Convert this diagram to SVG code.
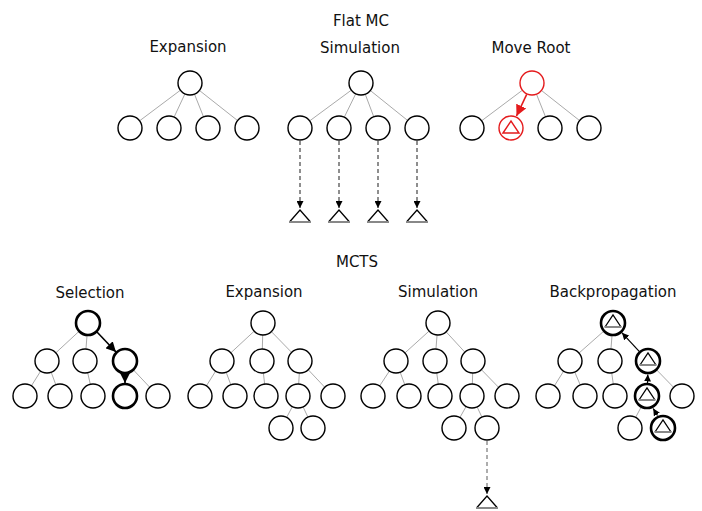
<svg xmlns="http://www.w3.org/2000/svg" width="702" height="511" viewBox="0 0 702 511">
<defs>
<style>
text{font-family:"DejaVu Sans","Liberation Sans",sans-serif;font-size:15px;fill:#111;text-anchor:middle}
.n{fill:#fff;stroke:#000;stroke-width:1.4}
.b{fill:#fff;stroke:#000;stroke-width:2.6}
.r{fill:#fff;stroke:#e41a1c;stroke-width:1.4}
.e{stroke:#aaa;stroke-width:1;fill:none}
.d1{stroke:#444;stroke-width:1.2;stroke-dasharray:4 3;fill:none}
.d2{stroke:#999;stroke-width:1.6;stroke-dasharray:4 3;fill:none}
.t{fill:none;stroke:#000;stroke-width:1.3;stroke-linejoin:miter}
.tb{stroke:#888;stroke-width:2}
.tr{fill:none;stroke:#e41a1c;stroke-width:1.4}
</style>
<marker id="ah" viewBox="0 0 10 10" refX="10" refY="5" markerWidth="7" markerHeight="7" markerUnits="userSpaceOnUse" orient="auto"><path d="M0,0L10,5L0,10z" fill="#000"/></marker>
<marker id="ahb" viewBox="0 0 10 10" refX="10" refY="5" markerWidth="10" markerHeight="10" markerUnits="userSpaceOnUse" orient="auto"><path d="M0,0L10,5L0,10z" fill="#000"/></marker>
<marker id="ahr" viewBox="0 0 10 10" refX="10" refY="5" markerWidth="11" markerHeight="11" markerUnits="userSpaceOnUse" orient="auto"><path d="M0,0L10,5L0,10z" fill="#e41a1c"/></marker>
<g id="tri"><polyline class="t" points="-8,4 0,-8 8,4"/><line class="tb" x1="-8.5" y1="4" x2="8.5" y2="4"/></g>
<g id="bigtri"><polyline class="t" points="-10.5,12 0,0 10.5,12"/><line class="tb" x1="-11" y1="12" x2="11" y2="12"/></g>
</defs>
<rect width="702" height="511" fill="#fff"/>

<g id="labels">
<text x="361" y="26">Flat MC</text>
<text x="188" y="52">Expansion</text>
<text x="360" y="53">Simulation</text>
<text x="531" y="53">Move Root</text>
<text x="357" y="267">MCTS</text>
<text x="90" y="298">Selection</text>
<text x="264" y="297">Expansion</text>
<text x="438" y="297">Simulation</text>
<text x="613" y="297">Backpropagation</text>
</g>

<g id="connectors">
<line class="e" x1="190" y1="83" x2="130" y2="128"/>
<line class="e" x1="190" y1="83" x2="169" y2="128"/>
<line class="e" x1="190" y1="83" x2="208" y2="128"/>
<line class="e" x1="190" y1="83" x2="247" y2="128"/>
<line class="e" x1="361" y1="83" x2="300" y2="128"/>
<line class="e" x1="361" y1="83" x2="339" y2="128"/>
<line class="e" x1="361" y1="83" x2="378" y2="128"/>
<line class="e" x1="361" y1="83" x2="417" y2="128"/>
<line class="d1" x1="300" y1="141" x2="300" y2="208" marker-end="url(#ah)"/>
<line class="d1" x1="339" y1="141" x2="339" y2="208" marker-end="url(#ah)"/>
<line class="d1" x1="378" y1="141" x2="378" y2="208" marker-end="url(#ah)"/>
<line class="d1" x1="417" y1="141" x2="417" y2="208" marker-end="url(#ah)"/>
<line class="e" x1="532" y1="83" x2="472" y2="128"/>
<line class="e" x1="532" y1="83" x2="550" y2="128"/>
<line class="e" x1="532" y1="83" x2="589" y2="128"/>
<line x1="526.7" y1="94.3" x2="516.5" y2="116" stroke="#e41a1c" stroke-width="1.6" marker-end="url(#ahr)"/>
<line class="e" x1="88" y1="323" x2="47" y2="361"/>
<line class="e" x1="88" y1="323" x2="85" y2="361"/>
<line class="e" x1="47" y1="361" x2="25" y2="396"/>
<line class="e" x1="47" y1="361" x2="60" y2="396"/>
<line class="e" x1="85" y1="361" x2="93" y2="396"/>
<line class="e" x1="125" y1="361" x2="158" y2="396"/>
<line x1="96.5" y1="331.5" x2="116" y2="352" stroke="#000" stroke-width="1.6" marker-end="url(#ahb)"/>
<line x1="125" y1="374" x2="125" y2="383" stroke="#000" stroke-width="1.6" marker-end="url(#ahb)"/>
<line class="e" x1="263" y1="323" x2="222" y2="361"/>
<line class="e" x1="263" y1="323" x2="262" y2="361"/>
<line class="e" x1="263" y1="323" x2="300" y2="361"/>
<line class="e" x1="222" y1="361" x2="200" y2="396"/>
<line class="e" x1="222" y1="361" x2="235" y2="396"/>
<line class="e" x1="262" y1="361" x2="266" y2="396"/>
<line class="e" x1="300" y1="361" x2="298" y2="396"/>
<line class="e" x1="300" y1="361" x2="333" y2="396"/>
<line class="e" x1="298" y1="396" x2="281" y2="428"/>
<line class="e" x1="298" y1="396" x2="313" y2="428"/>
<line class="e" x1="438" y1="323" x2="396" y2="361"/>
<line class="e" x1="438" y1="323" x2="435" y2="361"/>
<line class="e" x1="438" y1="323" x2="473" y2="361"/>
<line class="e" x1="396" y1="361" x2="373" y2="396"/>
<line class="e" x1="396" y1="361" x2="409" y2="396"/>
<line class="e" x1="435" y1="361" x2="440" y2="396"/>
<line class="e" x1="473" y1="361" x2="472" y2="396"/>
<line class="e" x1="473" y1="361" x2="507" y2="396"/>
<line class="e" x1="472" y1="396" x2="454" y2="428"/>
<line class="e" x1="472" y1="396" x2="487" y2="428"/>
<line class="d2" x1="487" y1="441" x2="487" y2="494" marker-end="url(#ah)"/>
<line class="e" x1="613" y1="323" x2="570" y2="361"/>
<line class="e" x1="613" y1="323" x2="610" y2="361"/>
<line class="e" x1="570" y1="361" x2="548" y2="396"/>
<line class="e" x1="570" y1="361" x2="585" y2="396"/>
<line class="e" x1="610" y1="361" x2="615" y2="396"/>
<line class="e" x1="648" y1="361" x2="682" y2="396"/>
<line class="e" x1="647" y1="396" x2="630" y2="428"/>
<line x1="639.2" y1="351.4" x2="622" y2="332.8" stroke="#000" stroke-width="1.2" marker-end="url(#ah)"/>
<line x1="647.5" y1="383" x2="647.8" y2="374.5" stroke="#000" stroke-width="1.2" marker-end="url(#ah)"/>
<line x1="657.5" y1="415.5" x2="653.2" y2="408.5" stroke="#000" stroke-width="1.2" marker-end="url(#ah)"/>
</g>

<g id="flat-expansion">
<circle class="n" cx="190" cy="83" r="12"/>
<circle class="n" cx="130" cy="128" r="12"/>
<circle class="n" cx="169" cy="128" r="12"/>
<circle class="n" cx="208" cy="128" r="12"/>
<circle class="n" cx="247" cy="128" r="12"/>
</g>
<g id="flat-simulation">
<circle class="n" cx="361" cy="83" r="12"/>
<circle class="n" cx="300" cy="128" r="12"/>
<circle class="n" cx="339" cy="128" r="12"/>
<circle class="n" cx="378" cy="128" r="12"/>
<circle class="n" cx="417" cy="128" r="12"/>
<use href="#bigtri" x="300" y="210"/>
<use href="#bigtri" x="339" y="210"/>
<use href="#bigtri" x="378" y="210"/>
<use href="#bigtri" x="417" y="210"/>
</g>
<g id="flat-moveroot">
<circle class="r" cx="532" cy="83" r="12"/>
<circle class="n" cx="472" cy="128" r="12"/>
<circle class="r" cx="511" cy="128" r="12"/>
<circle class="n" cx="550" cy="128" r="12"/>
<circle class="n" cx="589" cy="128" r="12"/>
<polygon class="tr" points="503,133 511,121 519,133"/>
</g>

<g id="mcts-selection">
<circle class="b" cx="88" cy="323" r="12"/>
<circle class="n" cx="47" cy="361" r="12"/>
<circle class="n" cx="85" cy="361" r="12"/>
<circle class="b" cx="125" cy="361" r="12"/>
<circle class="n" cx="25" cy="396" r="12"/>
<circle class="n" cx="60" cy="396" r="12"/>
<circle class="n" cx="93" cy="396" r="12"/>
<circle class="b" cx="125" cy="396" r="12"/>
<circle class="n" cx="158" cy="396" r="12"/>
</g>

<g id="mcts-expansion">
<circle class="n" cx="263" cy="323" r="12"/>
<circle class="n" cx="222" cy="361" r="12"/>
<circle class="n" cx="262" cy="361" r="12"/>
<circle class="n" cx="300" cy="361" r="12"/>
<circle class="n" cx="200" cy="396" r="12"/>
<circle class="n" cx="235" cy="396" r="12"/>
<circle class="n" cx="266" cy="396" r="12"/>
<circle class="n" cx="298" cy="396" r="12"/>
<circle class="n" cx="333" cy="396" r="12"/>
<circle class="n" cx="281" cy="428" r="12"/>
<circle class="n" cx="313" cy="428" r="12"/>
</g>

<g id="mcts-simulation">
<circle class="n" cx="438" cy="323" r="12"/>
<circle class="n" cx="396" cy="361" r="12"/>
<circle class="n" cx="435" cy="361" r="12"/>
<circle class="n" cx="473" cy="361" r="12"/>
<circle class="n" cx="373" cy="396" r="12"/>
<circle class="n" cx="409" cy="396" r="12"/>
<circle class="n" cx="440" cy="396" r="12"/>
<circle class="n" cx="472" cy="396" r="12"/>
<circle class="n" cx="507" cy="396" r="12"/>
<circle class="n" cx="454" cy="428" r="12"/>
<circle class="n" cx="487" cy="428" r="12"/>
<use href="#bigtri" x="487" y="496"/>
</g>

<g id="mcts-backprop">
<circle class="b" cx="613" cy="323" r="12"/>
<circle class="n" cx="570" cy="361" r="12"/>
<circle class="n" cx="610" cy="361" r="12"/>
<circle class="b" cx="648" cy="361" r="12"/>
<circle class="n" cx="548" cy="396" r="12"/>
<circle class="n" cx="585" cy="396" r="12"/>
<circle class="n" cx="615" cy="396" r="12"/>
<circle class="b" cx="647" cy="396" r="12"/>
<circle class="n" cx="682" cy="396" r="12"/>
<circle class="n" cx="630" cy="428" r="12"/>
<circle class="b" cx="663" cy="428" r="12"/>
<use href="#tri" x="613" y="323"/>
<use href="#tri" x="648" y="361"/>
<use href="#tri" x="647" y="396"/>
<use href="#tri" x="663" y="428"/>
</g>
</svg>
